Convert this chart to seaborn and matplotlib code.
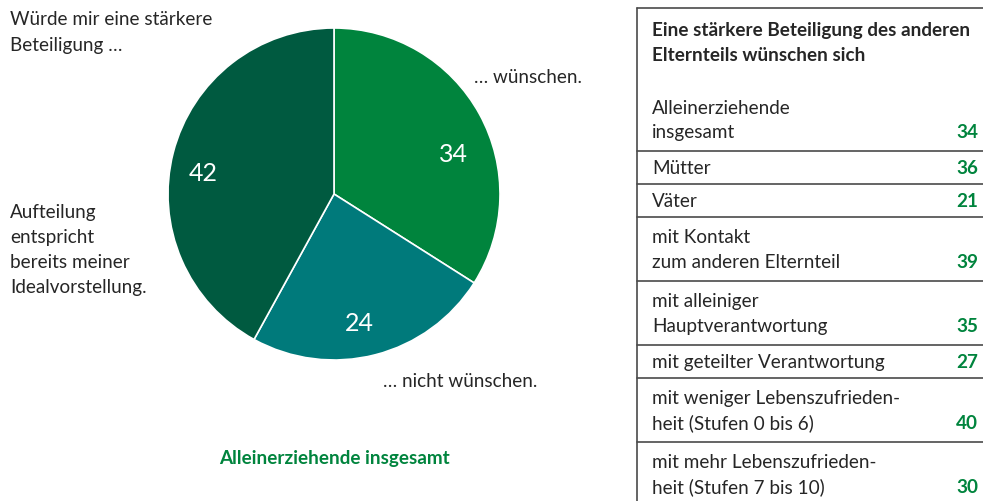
import matplotlib
matplotlib.use("Agg")
import matplotlib.pyplot as plt
import seaborn as sns
import numpy as np

# pie data (clockwise from 12 o'clock)
pie_values = [34, 24, 42]
pie_colors = ["#00843D", "#007A7B", "#005A40"]
pie_outer_labels = ["… wünschen.", "… nicht wünschen.",
                    "Aufteilung\nentspricht\nbereits meiner\nIdealvorstellung."]
pie_intro = "Würde mir eine stärkere\nBeteiligung …"
pie_caption = "Alleinerziehende insgesamt"

# table data
table_title = "Eine stärkere Beteiligung des anderen\nElternteils wünschen sich"
row_labels = [
    "Alleinerziehende\ninsgesamt",
    "Mütter",
    "Väter",
    "mit Kontakt\nzum anderen Elternteil",
    "mit alleiniger\nHauptverantwortung",
    "mit geteilter Verantwortung",
    "mit weniger Lebenszufrieden-\nheit (Stufen 0 bis 6)",
    "mit mehr Lebenszufrieden-\nheit (Stufen 7 bis 10)",
]
row_values = [34, 36, 21, 39, 35, 27, 40, 30]

sns.set_theme(style="white")
plt.rcParams['font.family'] = ['Lato', 'DejaVu Sans']

W, H = 983, 502
fig = plt.figure(figsize=(W / 100, H / 100), dpi=100)

# background axes in pixel coordinates for text and table lines
bg = fig.add_axes([0, 0, 1, 1])
bg.set_xlim(0, W)
bg.set_ylim(H, 0)
bg.axis("off")

FS = 13.6
GREEN = "#00843D"
LINE = "#4a4a4a"


def lines_text(x, y, text, step=25, **kw):
    # y is the visual middle of the first line; place on baseline
    for i, line in enumerate(text.split("\n")):
        bg.text(x, y + i * step + 6, line, va="baseline", fontsize=FS, **kw)


# pie
cx, cy, r = 334, 195, 166
ax = fig.add_axes([(cx - r) / W, (H - cy - r) / H, 2 * r / W, 2 * r / H])
wedges, _, autotexts = ax.pie(
    pie_values, colors=pie_colors, startangle=90, counterclock=False,
    autopct=lambda p: f"{p:.0f}", pctdistance=0.78,
    wedgeprops=dict(edgecolor="white", linewidth=1.2),
    textprops=dict(color="white", fontsize=18))
# value labels sit a bit off the wedge middle in the original (angle deg, radius)
label_polar = [(18.6, 0.76), (-79, 0.79), (170.5, 0.80)]
for t, (a, rr) in zip(autotexts, label_polar):
    t.set_position((rr * np.cos(np.radians(a)), rr * np.sin(np.radians(a))))
ax.set_xlim(-1, 1)
ax.set_ylim(-1, 1)
ax.set_aspect("equal")

lines_text(10, 19, pie_intro, step=26)
lines_text(474, 77, pie_outer_labels[0])
lines_text(383, 381, pie_outer_labels[1])
lines_text(10, 212, pie_outer_labels[2])
bg.text(cx, 458 + 6, pie_caption, ha="center", va="baseline", fontsize=FS,
        color=GREEN, fontweight="bold")

# table
tx0, tx1 = 637, W
bg.plot([tx0, tx0], [9, H], color=LINE, lw=1.2)
bg.plot([tx0, tx1], [9, 9], color=LINE, lw=1.2)
lines_text(652, 30, table_title, fontweight="bold")

top = 88
for lab, val in zip(row_labels, row_values):
    n = lab.count("\n") + 1
    h = 33 if n == 1 else 64
    mid = top + h / 2
    y0 = mid - 12.5 * (n - 1)
    lines_text(652, y0, lab)
    bg.text(978, y0 + 25 * (n - 1) + 6, str(val), ha="right", va="baseline",
            fontsize=FS, color=GREEN, fontweight="bold")
    top += h
    if top < H:
        bg.plot([tx0, tx1], [top, top], color=LINE, lw=1.2)

fig.savefig("out.png", dpi=100)
